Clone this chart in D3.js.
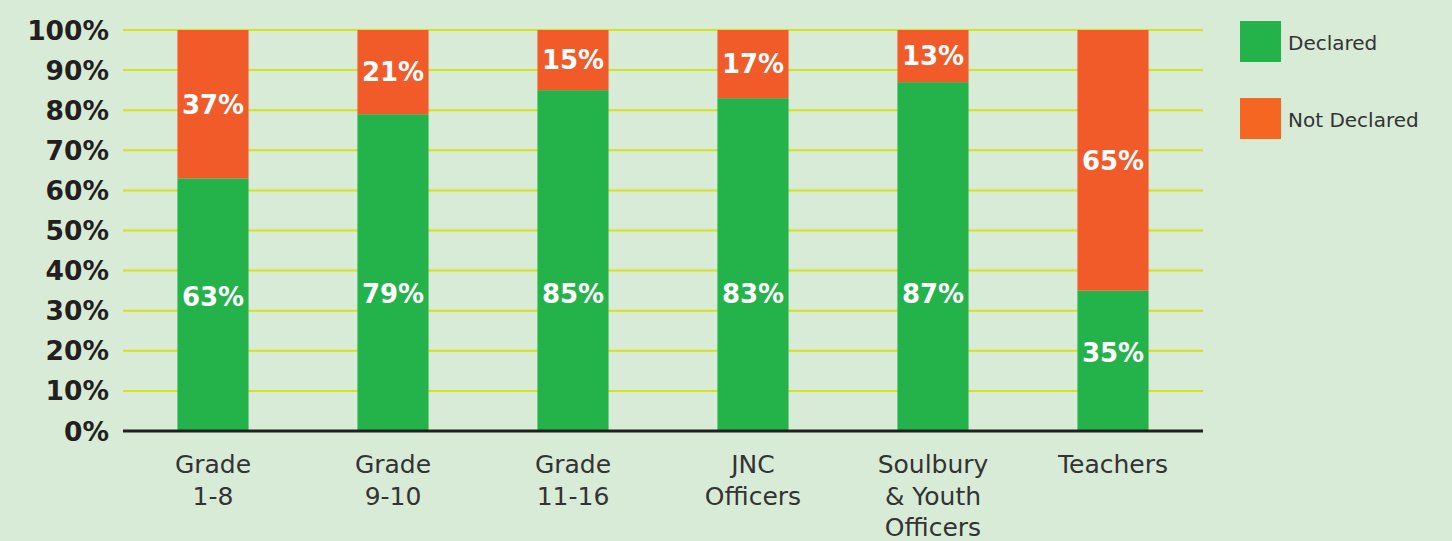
<!DOCTYPE html>
<html>
<head>
<meta charset="utf-8">
<script src="https://cdn.jsdelivr.net/npm/d3@7"></script>
<style>
  html, body { margin: 0; padding: 0; background: #d8ebd6; }
  svg { display: block; }
</style>
</head>
<body>
<div id="app"></div>
<script>
// data
const categories = [['Grade', '1-8'], ['Grade', '9-10'], ['Grade', '11-16'], ['JNC', 'Officers'], ['Soulbury', '& Youth', 'Officers'], ['Teachers']]
const declared = [63, 79, 85, 83, 87, 35]
const notDeclared = [37, 21, 15, 17, 13, 65]
const yTicks = [0, 10, 20, 30, 40, 50, 60, 70, 80, 90, 100]
const seriesNames = ['Declared', 'Not Declared']

const W = 1452, H = 541
const GREEN = '#24b24b', ORANGE = '#f15a29', LEG_ORANGE = '#f46622'

let svg = d3.select('#app').append('svg').attr('width', W).attr('height', H)

let x = d3.scaleBand().domain(d3.range(categories.length)).range([123, 1203])
let y = d3.scaleLinear().domain([0, 100]).range([431, 30])
let barW = x.bandwidth() * 0.395

// grid lines
svg.append('g').selectAll('line').data(yTicks.filter(d => d > 0)).join('line')
  .attr('x1', 123).attr('x2', 1203)
  .attr('y1', d => y(d)).attr('y2', d => y(d))
  .style('stroke', '#d6e11f').style('stroke-width', 2)

// y tick labels
svg.append('g').selectAll('text').data(yTicks).join('text')
  .attr('x', 109).attr('y', d => y(d))
  .attr('dy', '0.36em')
  .text(d => d + '%')
  .style('text-anchor', 'end')
  .style('font-family', 'DejaVu Sans').style('font-weight', 'bold')
  .style('font-size', '26.5px').style('fill', '#231f20')

let rows = declared.map((d, i) => ({ i, d, n: notDeclared[i] }))

let bars = svg.append('g').selectAll('g').data(rows).join('g')
bars.append('rect')
  .attr('x', r => x(r.i) + (x.bandwidth() - barW) / 2).attr('width', barW)
  .attr('y', r => y(r.d)).attr('height', r => y(0) - y(r.d))
  .style('fill', GREEN)
bars.append('rect')
  .attr('x', r => x(r.i) + (x.bandwidth() - barW) / 2).attr('width', barW)
  .attr('y', r => y(r.d + r.n)).attr('height', r => y(r.d) - y(r.d + r.n))
  .style('fill', ORANGE)

// value labels
const labelStyle = sel => sel
  .attr('dy', '0.36em')
  .style('text-anchor', 'middle')
  .style('font-family', 'DejaVu Sans').style('font-weight', 'bold')
  .style('font-size', '26px').style('fill', '#fff')

bars.append('text')
  .attr('x', r => x(r.i) + x.bandwidth() / 2)
  .attr('y', r => y(Math.min(r.d / 2 + 2, 34.3)))
  .text(r => r.d + '%')
  .call(labelStyle)
bars.append('text')
  .attr('x', r => x(r.i) + x.bandwidth() / 2)
  .attr('y', r => y(100 - r.n / 2))
  .text(r => r.n + '%')
  .call(labelStyle)

// baseline
svg.append('line')
  .attr('x1', 123).attr('x2', 1203).attr('y1', y(0)).attr('y2', y(0))
  .style('stroke', '#231f20').style('stroke-width', 3)

// category labels
let cat = svg.append('g').selectAll('text').data(categories).join('text')
  .attr('x', (d, i) => x(i) + x.bandwidth() / 2)
  .attr('y', 473)
  .style('text-anchor', 'middle')
  .style('font-family', 'DejaVu Sans')
  .style('font-size', '25px').style('fill', '#333')
cat.selectAll('tspan').data(d => d).join('tspan')
  .attr('x', function () { return this.parentNode.getAttribute('x') })
  .attr('dy', (d, j) => j === 0 ? 0 : 31.5)
  .text(d => d)

// legend
let leg = svg.append('g').selectAll('g').data(seriesNames).join('g')
  .attr('transform', (d, i) => `translate(1240, ${21 + i * 77})`)
leg.append('rect').attr('width', 41).attr('height', 41)
  .style('fill', (d, i) => i === 0 ? GREEN : LEG_ORANGE)
leg.append('text').attr('x', 48).attr('y', 22).attr('dy', '0.36em')
  .text(d => d)
  .style('font-family', 'DejaVu Sans')
  .style('font-size', '20px').style('fill', '#333')
</script>
</body>
</html>
